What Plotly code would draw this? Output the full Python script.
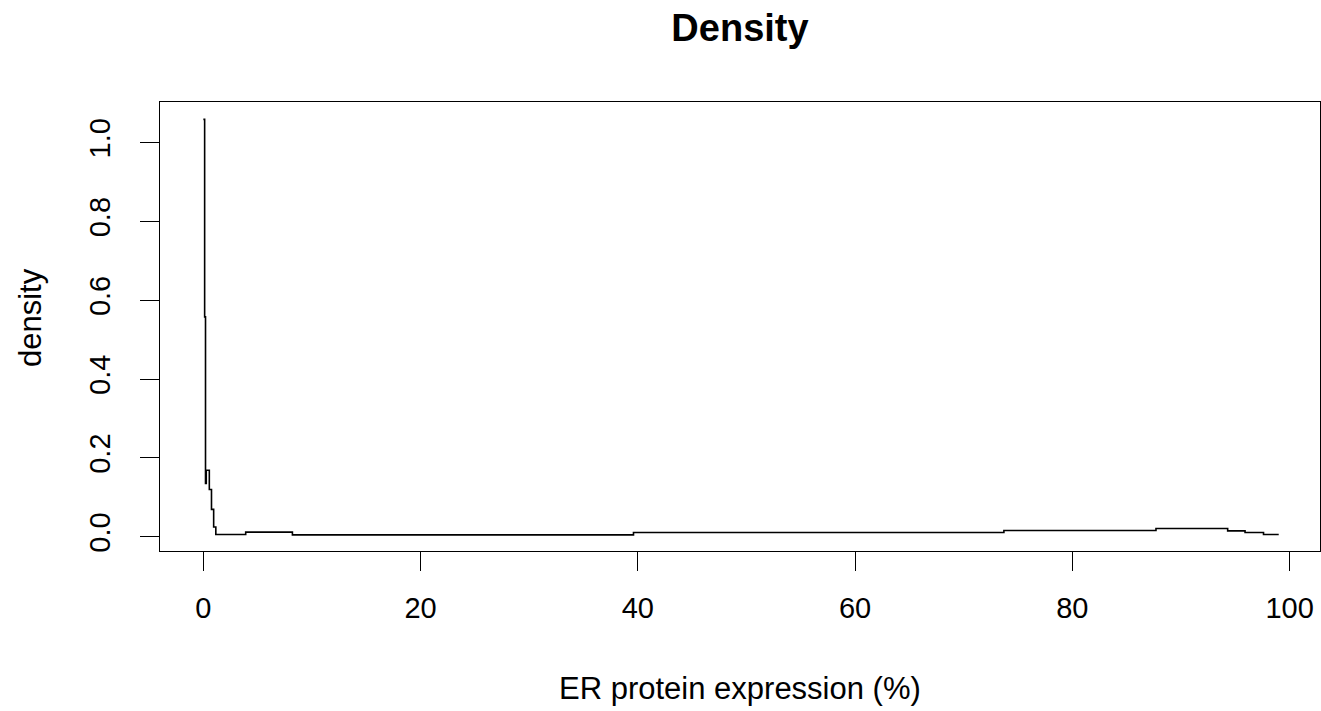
import plotly.graph_objects as go

# step-function density estimate
x_vals = [0.0, 0.12, 0.2, 0.27, 0.55, 0.75, 0.95, 1.15, 3.9, 8.2, 39.6, 73.7, 87.7, 94.3, 95.9, 97.6, 99.0]
y_vals = [1.059, 0.558, 0.1355, 0.169, 0.120, 0.0695, 0.025, 0.006, 0.012, 0.005, 0.011, 0.016, 0.021, 0.015, 0.011, 0.006, 0.006]

x_ticks = [0, 20, 40, 60, 80, 100]
y_ticks = [0.0, 0.2, 0.4, 0.6, 0.8, 1.0]
y_tick_text = ["0.0", "0.2", "0.4", "0.6", "0.8", "1.0"]

W, H = 1321, 711
L, R, T, B = 160, 1, 102, 160
plot_h = H - T - B

FONT = "Liberation Sans, Arial, sans-serif"

fig = go.Figure()
fig.add_trace(go.Scatter(x=x_vals, y=y_vals, mode="lines", line=dict(shape="hv", color="black", width=1.6),
                         showlegend=False, hoverinfo="skip"))

fig.update_layout(
    width=W, height=H,
    margin=dict(l=L, r=R, t=T, b=B, autoexpand=False),
    paper_bgcolor="white", plot_bgcolor="white",
    font=dict(family=FONT, color="black", size=29),
    title=dict(text="<b>Density</b>", x=(L + (W - L - R) / 2) / W, xanchor="center",
               y=1 - 28 / H, yanchor="middle", yref="container",
               font=dict(family=FONT, size=38, color="black")),
    xaxis=dict(range=[-3.99, 102.8], tickmode="array", tickvals=x_ticks,
               ticks="outside", ticklen=19, tickwidth=1, tickcolor="black",
               ticklabelstandoff=12,
               showline=True, linecolor="black", linewidth=1, mirror=True,
               showgrid=False, zeroline=False, tickfont=dict(size=29, family=FONT)),
    yaxis=dict(range=[-0.036, 1.103], tickmode="array", tickvals=y_ticks, ticktext=y_tick_text,
               ticks="outside", ticklen=19, tickwidth=1, tickcolor="black", tickangle=-90,
               ticklabelstandoff=18,
               showline=True, linecolor="black", linewidth=1, mirror=True,
               showgrid=False, zeroline=False, tickfont=dict(size=29, family=FONT)),
    annotations=[
        dict(text="ER protein expression (%)", xref="paper", yref="paper",
             x=0.5, y=-(688 - (H - B)) / plot_h, xanchor="center", yanchor="middle",
             showarrow=False, font=dict(size=31, family=FONT, color="black")),
        dict(text="density", xref="paper", yref="paper", textangle=-90,
             x=-(L - 30) / (W - L - R), y=(H - B - 318) / plot_h, xanchor="center", yanchor="middle",
             showarrow=False, font=dict(size=31, family=FONT, color="black")),
    ],
)

fig.write_html("out.html")
